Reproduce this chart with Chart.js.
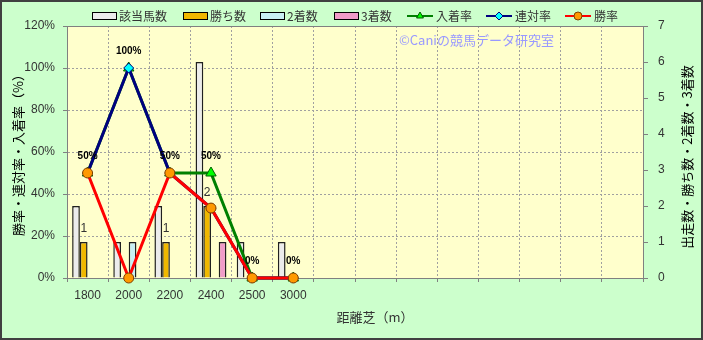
<!DOCTYPE html>
<html>
<head>
<meta charset="utf-8">
<script src="https://cdn.jsdelivr.net/npm/chart.js@4"></script>
<style>
html, body { margin: 0; padding: 0; background: #ccffcc; }
</style>
</head>
<body>
<canvas id="chart" width="703" height="340"></canvas>
<script>
// distance categories (turf), the chart keeps 14 slots
const distances = ['1800', '2000', '2200', '2400', '2500', '3000', '', '', '', '', '', '', '', ''];
// counts (right axis)
const runners = [2, 1, 2, 6, 1, 1];
const wins = [1, 0, 1, 2, 0, 0];
const seconds = [0, 1, 0, 0, 0, 0];
const thirds = [0, 0, 0, 1, 0, 0];
// rates in % (left axis)
const placeRate = [50, 100, 50, 50, 0, 0];
const rentaiRate = [50, 100, 50, 33.3, 0, 0];
const winRate = [50, 0, 50, 33.3, 0, 0];

Chart.defaults.font.family = "'Liberation Sans', 'Noto Sans CJK JP', sans-serif";
Chart.defaults.font.size = 12;
Chart.defaults.color = '#333';

const cjk = "'Noto Sans CJK JP', sans-serif";
const noZero = arr => arr.map(v => v || null);

function barDataset(label, data, color, order) {
    return {
        type: 'bar',
        label: label,
        data: noZero(data),
        yAxisID: 'y1',
        backgroundColor: color,
        borderColor: '#202020',
        borderWidth: 1.5,
        borderSkipped: 'bottom',
        categoryPercentage: 0.75,
        barPercentage: 1.0,
        order: order
    };
}

function lineDataset(label, data, color, pointStyle, pointColor, pointBorder, radius, order) {
    return {
        type: 'line',
        label: label,
        data: data,
        yAxisID: 'y',
        borderColor: color,
        borderWidth: 3,
        tension: 0,
        pointStyle: pointStyle,
        pointRadius: radius,
        pointBackgroundColor: pointColor,
        pointBorderColor: pointBorder,
        pointBorderWidth: 1,
        clip: false,
        order: order
    };
}

// plot area fill, border, legend, titles and value labels
const decorations = {
    id: 'decorations',
    beforeDraw(chart) {
        const { ctx, chartArea: a } = chart;
        ctx.save();
        ctx.fillStyle = '#ccffcc';
        ctx.fillRect(0, 0, chart.width, chart.height);
        ctx.fillStyle = '#ffffcc';
        ctx.fillRect(a.left, a.top, a.right - a.left, a.bottom - a.top);
        ctx.restore();
    },
    beforeDatasetsDraw(chart) {
        const { ctx, chartArea: a } = chart;
        ctx.save();
        ctx.strokeStyle = '#808080';
        ctx.lineWidth = 1;
        ctx.strokeRect(a.left + 0.5, a.top + 0.5, a.right - a.left, a.bottom - a.top);
        // watermark
        ctx.fillStyle = '#9999ff';
        ctx.font = '13px ' + cjk;
        ctx.textAlign = 'left';
        ctx.textBaseline = 'middle';
        ctx.fillText('©Caniの競馬データ研究室', 399, 40);
        ctx.restore();
    },
    afterDatasetsDraw(chart) {
        const { ctx } = chart;
        ctx.save();
        ctx.textAlign = 'center';
        ctx.textBaseline = 'middle';
        // 入着率 labels
        ctx.fillStyle = '#000';
        ctx.font = "bold 10px 'Liberation Sans', sans-serif";
        chart.getDatasetMeta(4).data.forEach((pt, i) => {
            ctx.fillText(placeRate[i] + '%', pt.x, pt.y - 17);
        });
        // 勝ち数 labels
        ctx.fillStyle = '#333';
        ctx.font = "12px 'Liberation Sans', sans-serif";
        chart.getDatasetMeta(1).data.forEach((bar, i) => {
            if (wins[i]) ctx.fillText(String(wins[i]), bar.x, bar.y - 13);
        });
        ctx.restore();
    },
    afterDraw(chart) {
        const { ctx } = chart;
        ctx.save();
        // legend
        ctx.font = '12px ' + cjk;
        ctx.textBaseline = 'middle';
        ctx.textAlign = 'left';
        chart.data.datasets.forEach((ds, i) => {
            const x = [92, 183, 260, 334, 407, 486, 565][i];
            const y = 16;
            if (ds.type === 'bar') {
                ctx.fillStyle = ds.backgroundColor;
                ctx.fillRect(x, y - 3, 24, 6);
                ctx.strokeStyle = '#000';
                ctx.lineWidth = 1;
                ctx.strokeRect(x + 0.5, y - 3.5, 24, 7);
            } else {
                ctx.strokeStyle = ds.borderColor;
                ctx.lineWidth = 2;
                ctx.beginPath();
                ctx.moveTo(x, y);
                ctx.lineTo(x + 26, y);
                ctx.stroke();
                ctx.fillStyle = ds.pointBackgroundColor;
                ctx.strokeStyle = ds.pointBorderColor;
                ctx.lineWidth = 1;
                Chart.helpers.drawPoint(ctx, { pointStyle: ds.pointStyle, radius: 4, borderWidth: 1 }, x + 13, y);
            }
            ctx.fillStyle = '#333';
            ctx.fillText(ds.label, x + (ds.type === 'bar' ? 27 : 29), y);
        });
        // axis titles
        ctx.fillStyle = '#000';
        ctx.font = '13px ' + cjk;
        ctx.textAlign = 'center';
        ctx.save();
        ctx.translate(18, 152);
        ctx.rotate(-Math.PI / 2);
        ctx.fillText('勝率・連対率・入着率（%）', 0, 0);
        ctx.restore();
        ctx.save();
        ctx.translate(687, 157);
        ctx.rotate(-Math.PI / 2);
        ctx.fillText('出走数・勝ち数・2着数・3着数', 0, 0);
        ctx.restore();
        ctx.fillStyle = '#333';
        ctx.fillText('距離芝（m）', 375, 317);
        // outer frame
        ctx.strokeStyle = '#404040';
        ctx.lineWidth = 2;
        ctx.strokeRect(1, 1, chart.width - 2, chart.height - 2);
        ctx.restore();
    }
};

new Chart(document.getElementById('chart'), {
    type: 'bar',
    data: {
        labels: distances,
        datasets: [
            barDataset('該当馬数', runners, '#ececec', 3),
            barDataset('勝ち数', wins, '#f0b800', 4),
            barDataset('2着数', seconds, '#c8f0f4', 5),
            barDataset('3着数', thirds, '#f09cc8', 6),
            lineDataset('入着率', placeRate, '#008000', 'triangle', '#00ff00', '#006000', 6, 2),
            lineDataset('連対率', rentaiRate, '#000080', 'rectRot', '#00ffff', '#000080', 5, 1),
            lineDataset('勝率', winRate, '#ff0000', 'circle', '#ff9900', '#804000', 5, 0)
        ]
    },
    options: {
        responsive: false,
        animation: false,
        layout: { padding: { top: 26, left: 0, right: 0, bottom: 0 } },
        plugins: {
            legend: { display: false },
            tooltip: { enabled: false }
        },
        scales: {
            x: {
                grid: { color: '#a0a0a0', offset: true, tickLength: 4, tickColor: '#808080' },
                border: { color: '#808080', dash: [2, 2] },
                ticks: { color: '#333', padding: 6, maxRotation: 0, autoSkip: false },
                afterFit: s => { s.height = 62; }
            },
            y: {
                position: 'left',
                min: 0,
                max: 120,
                ticks: { stepSize: 20, padding: 8, color: '#333', callback: v => v + '%' },
                grid: { color: '#a0a0a0', tickLength: 4, tickColor: '#808080' },
                border: { color: '#808080', dash: [2, 2] },
                afterFit: s => { s.width = 67; }
            },
            y1: {
                position: 'right',
                min: 0,
                max: 7,
                ticks: { stepSize: 1, padding: 10, color: '#333' },
                grid: { drawOnChartArea: false, tickLength: 5, color: '#808080' },
                border: { color: '#808080' },
                afterFit: s => { s.width = 60; }
            }
        }
    },
    plugins: [decorations]
});
</script>
</body>
</html>
